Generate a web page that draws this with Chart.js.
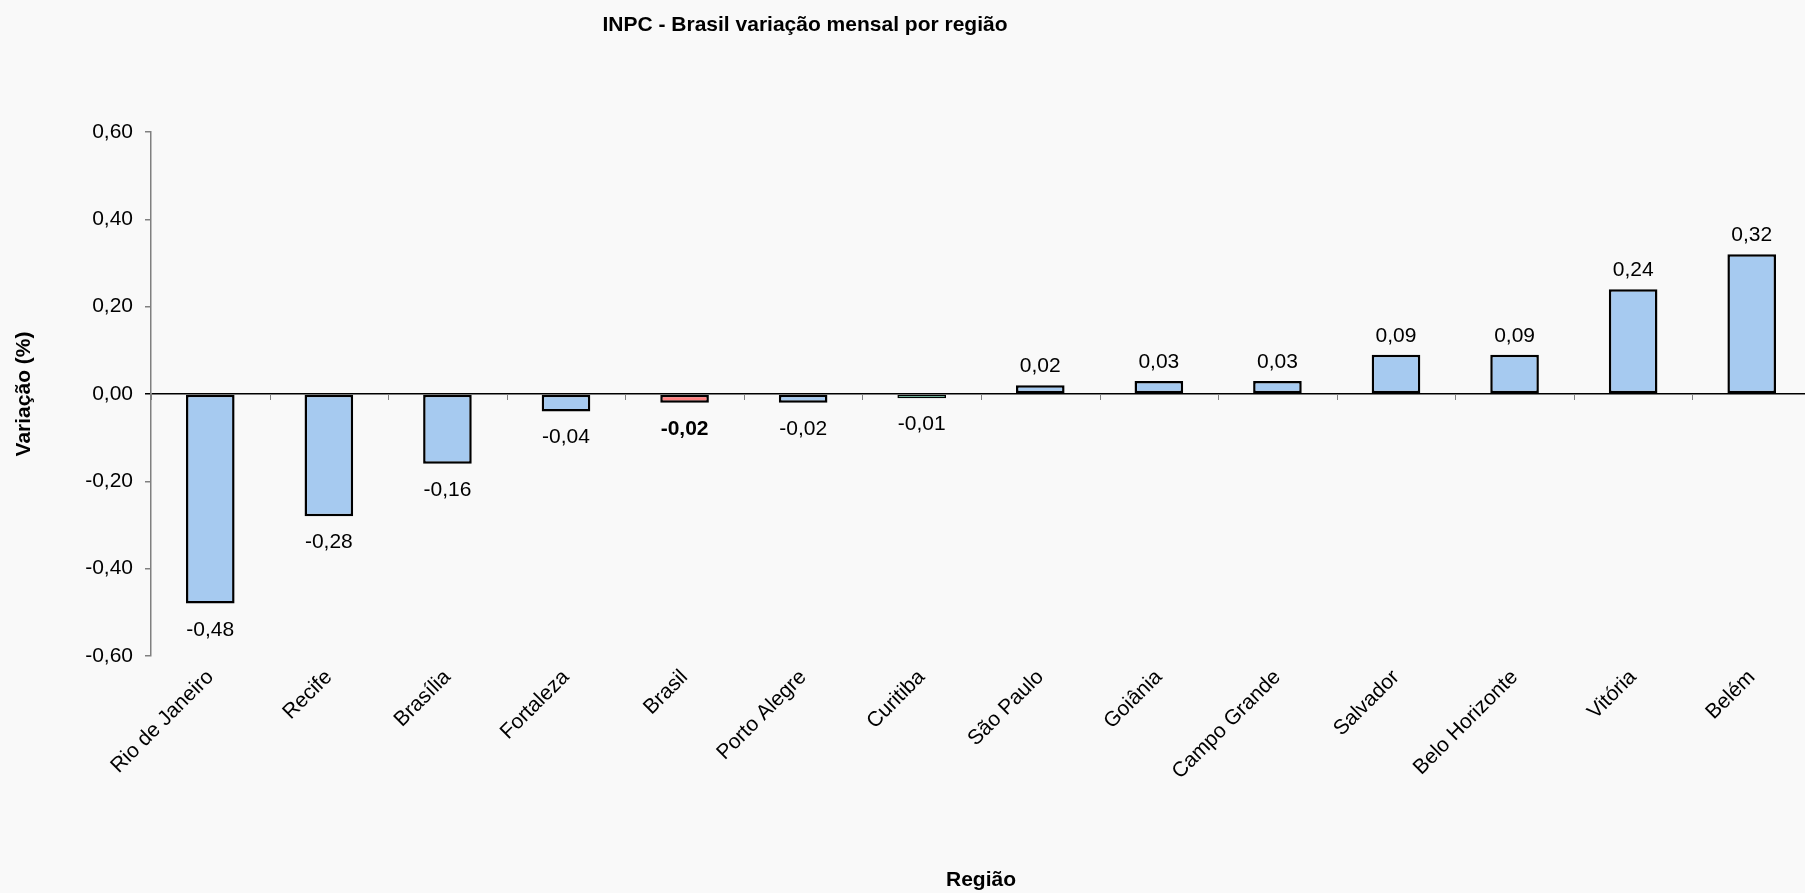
<!DOCTYPE html>
<html>
<head>
<meta charset="utf-8">
<script src="https://cdn.jsdelivr.net/npm/chart.js@4.4.0/dist/chart.umd.min.js"></script>
<style>
  html, body { margin: 0; padding: 0; background: #f9f9f9; overflow: hidden; }
  /* a área do gráfico passa um pouco da borda direita, como no original */
  #wrap { position: relative; width: 1811px; height: 893px; }
</style>
</head>
<body>
<div id="wrap"><canvas id="barChart"></canvas></div>
<script>
  // dados
  const regioes = ['Rio de Janeiro', 'Recife', 'Brasília', 'Fortaleza', 'Brasil', 'Porto Alegre', 'Curitiba',
    'São Paulo', 'Goiânia', 'Campo Grande', 'Salvador', 'Belo Horizonte', 'Vitória', 'Belém'];
  const variacao = [-0.48, -0.28, -0.16, -0.04, -0.02, -0.02, -0.01, 0.02, 0.03, 0.03, 0.09, 0.09, 0.24, 0.32];
  const eixoY = { min: -0.6, max: 0.6, passo: 0.2 };

  const FONTE = '"Liberation Sans", Arial, sans-serif';
  const fmt = v => v.toFixed(2).replace('.', ',');

  // Brasil em vermelho, Curitiba em verde, resto azul
  const corPorRegiao = nome => nome === 'Brasil' ? '#ff7f7f' : (nome === 'Curitiba' ? '#5fe0ae' : '#a6caf0');

  const extras = {
    id: 'extras',
    afterDraw(chart) {
      const ctx = chart.ctx;
      const xs = chart.scales.x;
      const ys = chart.scales.y;
      ctx.save();

      // título
      ctx.fillStyle = '#000';
      ctx.font = 'bold 21px ' + FONTE;
      ctx.textAlign = 'center';
      ctx.textBaseline = 'alphabetic';
      ctx.fillText('INPC - Brasil variação mensal por região', 805, 31);

      // marcas do eixo x sobre a linha do zero
      const zero = ys.getPixelForValue(0);
      const passo = xs.getPixelForValue(1) - xs.getPixelForValue(0);
      ctx.strokeStyle = '#808080';
      ctx.lineWidth = 1;
      for (let i = 0; i <= regioes.length; i++) {
        const px = Math.round(xs.getPixelForValue(0) - passo / 2 + i * passo) + 0.5;
        ctx.beginPath();
        ctx.moveTo(px, zero);
        ctx.lineTo(px, zero + 6);
        ctx.stroke();
      }

      // rótulos de dados
      const meta = chart.getDatasetMeta(0);
      meta.data.forEach((bar, i) => {
        const v = variacao[i];
        ctx.font = (regioes[i] === 'Brasil' ? 'bold ' : '') + '21px ' + FONTE;
        ctx.fillStyle = '#000';
        ctx.textAlign = 'center';
        ctx.textBaseline = 'alphabetic';
        const y = v >= 0 ? bar.y - 13 : bar.y + 32;
        ctx.fillText(fmt(v), bar.x, y);
      });
      ctx.restore();
    }
  };

  const ctxBar = document.getElementById('barChart').getContext('2d');

  const barChart = new Chart(ctxBar, {
    type: 'bar',
    data: {
      labels: regioes,
      datasets: [{
        label: 'Variação (%)',
        data: variacao,
        backgroundColor: regioes.map(corPorRegiao),
        borderColor: '#000',
        // barra muito baixa: borda mais fina para a cor aparecer
        borderWidth: c => Math.abs(c.raw) < 0.015 ? 1.5 : 2.5,
        borderSkipped: false,
        barPercentage: 0.41,
        categoryPercentage: 1
      }]
    },
    options: {
      responsive: true,
      maintainAspectRatio: false,
      animation: false,
      layout: { padding: { top: 132, right: 0, bottom: 0, left: 0 } },
      plugins: {
        legend: { display: false },
        title: { display: false },
        tooltip: { enabled: false }
      },
      scales: {
        x: {
          afterFit(scale) { scale.height = 237; },
          grid: { display: false, drawTicks: false },
          border: { display: false },
          ticks: {
            autoSkip: false,
            maxRotation: 45,
            minRotation: 45,
            padding: 9,
            color: '#000',
            font: { family: FONTE, size: 21 }
          },
          title: {
            display: true,
            text: 'Região',
            color: '#000',
            padding: { top: 0, bottom: 0 },
            font: { family: FONTE, size: 21, weight: 'bold' }
          }
        },
        y: {
          min: eixoY.min,
          max: eixoY.max,
          afterFit(scale) { scale.width = 151; },
          ticks: {
            stepSize: eixoY.passo,
            padding: 12,
            color: '#000',
            font: { family: FONTE, size: 21 },
            callback: v => fmt(v)
          },
          grid: {
            color: c => Math.abs(c.tick.value) < 1e-9 ? '#000' : 'rgba(0,0,0,0)',
            tickColor: c => Math.abs(c.tick.value) < 1e-9 ? '#000' : '#808080',
            lineWidth: 1.5,
            tickLength: 6
          },
          border: { display: true, color: '#808080', width: 1.5 },
          title: {
            display: true,
            text: 'Variação (%)',
            color: '#000',
            padding: { top: 12, bottom: 0 },
            font: { family: FONTE, size: 21, weight: 'bold' }
          }
        }
      }
    },
    plugins: [extras]
  });
</script>
</body>
</html>
